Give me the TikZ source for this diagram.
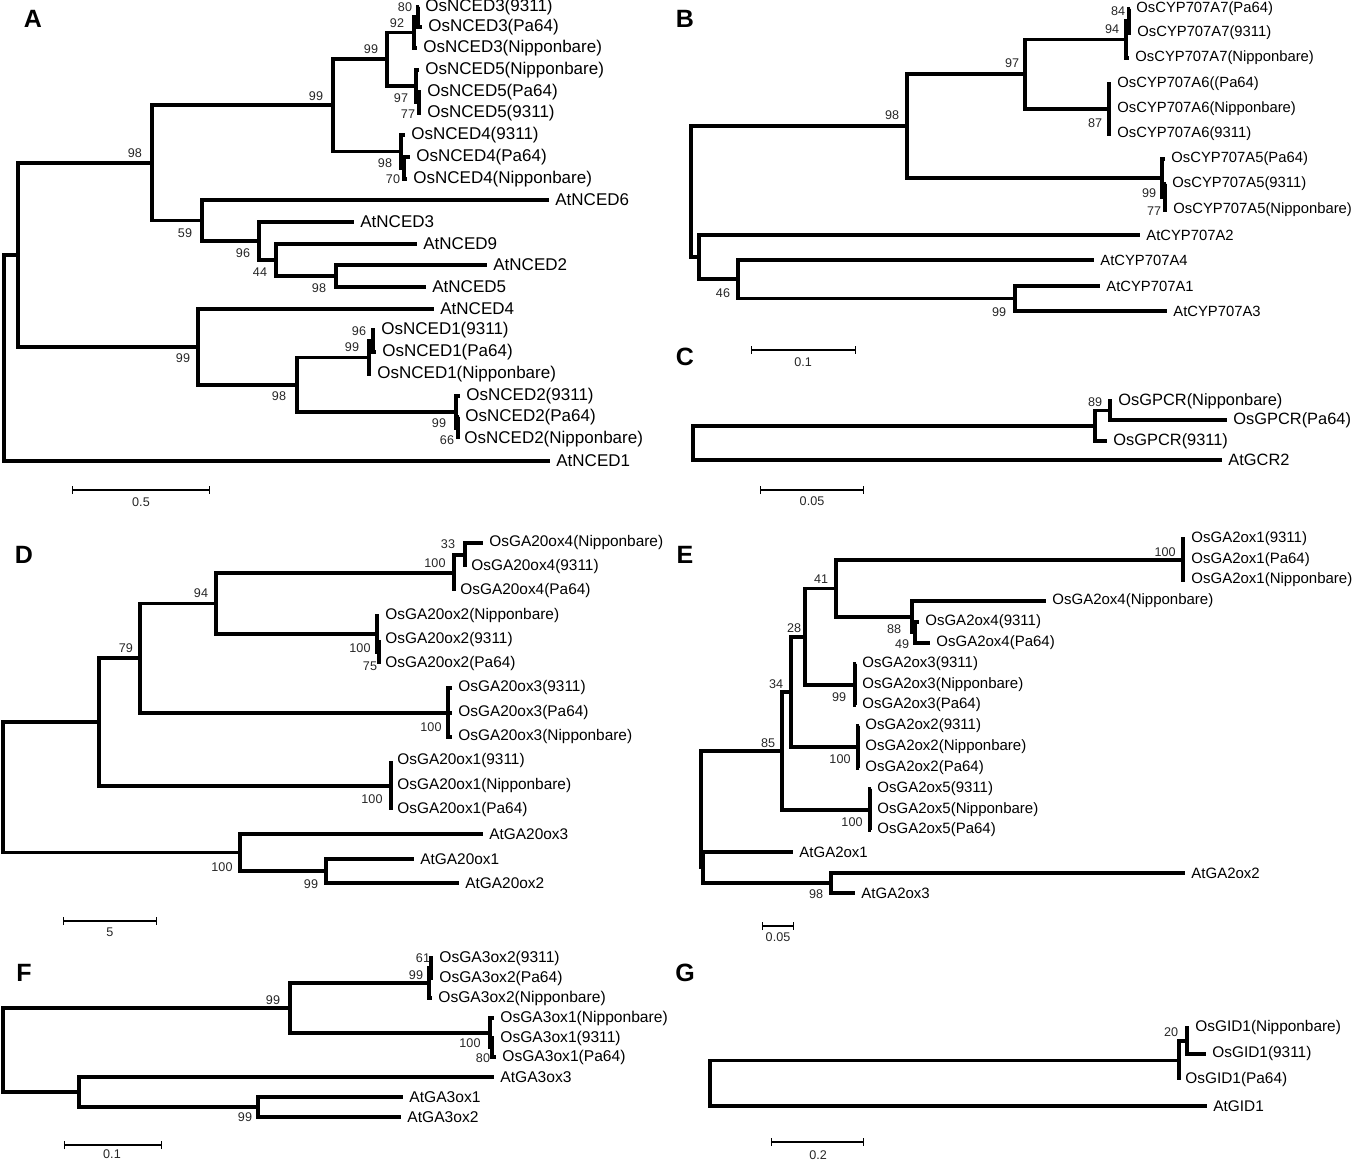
\documentclass[tikz,border=0pt]{standalone}
\usepackage{fontspec}
\setmainfont{Liberation Sans}
\usetikzlibrary{arrows.meta}
\newcommand{\bssize}{\fontsize{6.3}{7}\selectfont}
\newcommand{\pnlsize}{\fontsize{12.5}{14}\selectfont\bfseries}
\tikzset{
  br/.style={line width=1.7pt},
  lf/.style={anchor=west, inner xsep=3pt, inner ysep=1pt, font=\fontsize{#1}{10}\selectfont},
  lf/.default=7.7,
  bs/.style={inner sep=0pt, font=\bssize, text=black!85},
  pnl/.style={inner sep=0pt, font=\pnlsize},
  sbar/.style={line width=0.6pt, {Bar[width=4pt]}-{Bar[width=4pt]}},
}
\begin{document}
\begin{tikzpicture}[x=0.5pt,y=-0.5pt]
\useasboundingbox (0,0) rectangle (1355,1161);

% A
\node[pnl] (pA) at (33,19) {A};
\node[lf=8.5] (a3x) at (419,7)   {OsNCED3(9311)};
\node[lf=8.5] (a3p) at (422,27)  {OsNCED3(Pa64)};
\node[lf=8.5] (a3n) at (417,48)  {OsNCED3(Nipponbare)};
\node[lf=8.5] (a5n) at (419,70)  {OsNCED5(Nipponbare)};
\node[lf=8.5] (a5p) at (421,92)  {OsNCED5(Pa64)};
\node[lf=8.5] (a5x) at (421,113) {OsNCED5(9311)};
\node[lf=8.5] (a4x) at (405,135) {OsNCED4(9311)};
\node[lf=8.5] (a4p) at (410,157) {OsNCED4(Pa64)};
\node[lf=8.5] (a4n) at (407,179) {OsNCED4(Nipponbare)};
\node[lf=8.5] (at6) at (549,200) {AtNCED6};
\node[lf=8.5] (at3) at (354,222) {AtNCED3};
\node[lf=8.5] (at9) at (417,244) {AtNCED9};
\node[lf=8.5] (at2) at (487,265) {AtNCED2};
\node[lf=8.5] (at5) at (426,287) {AtNCED5};
\node[lf=8.5] (at4) at (434,309) {AtNCED4};
\node[lf=8.5] (a1x) at (375,330) {OsNCED1(9311)};
\node[lf=8.5] (a1p) at (376,352) {OsNCED1(Pa64)};
\node[lf=8.5] (a1n) at (371,374) {OsNCED1(Nipponbare)};
\node[lf=8.5] (a2x) at (460,396) {OsNCED2(9311)};
\node[lf=8.5] (a2p) at (459,417) {OsNCED2(Pa64)};
\node[lf=8.5] (a2n) at (458,439) {OsNCED2(Nipponbare)};
\node[lf=8.5] (at1) at (550,461) {AtNCED1};
\coordinate (a6) at (418,17);
\coordinate (a5) at (414,32.5);
\coordinate (a8) at (419,102.5);
\coordinate (a7) at (416,86);
\coordinate (a4) at (387,59);
\coordinate (a10) at (404,168);
\coordinate (a9) at (401,151.5);
\coordinate (a3) at (333,105);
\coordinate (a14) at (336,276);
\coordinate (a13) at (276,260);
\coordinate (a12) at (259,241);
\coordinate (a11) at (202,220.5);
\coordinate (a2) at (152,163);
\coordinate (a18) at (373,341);
\coordinate (a17) at (369,357.5);
\coordinate (a20) at (458,428);
\coordinate (a19) at (456,412);
\coordinate (a16) at (297,385);
\coordinate (a15) at (198,347);
\coordinate (a1) at (18,255);
\coordinate (aR) at (4,358);
\draw[br] (aR) |- (a1) (aR) |- (at1.west)
  (a1) |- (a2) (a1) |- (a15)
  (a2) |- (a3) (a2) |- (a11)
  (a3) |- (a4) (a3) |- (a9)
  (a4) |- (a5) (a4) |- (a7)
  (a5) |- (a6) (a5) |- (a3n.west)
  (a6) |- (a3x.west) (a6) |- (a3p.west)
  (a7) |- (a5n.west) (a7) |- (a8)
  (a8) |- (a5p.west) (a8) |- (a5x.west)
  (a9) |- (a4x.west) (a9) |- (a10)
  (a10) |- (a4p.west) (a10) |- (a4n.west)
  (a11) |- (at6.west) (a11) |- (a12)
  (a12) |- (at3.west) (a12) |- (a13)
  (a13) |- (at9.west) (a13) |- (a14)
  (a14) |- (at2.west) (a14) |- (at5.west)
  (a15) |- (at4.west) (a15) |- (a16)
  (a16) |- (a17) (a16) |- (a19)
  (a17) |- (a18) (a17) |- (a1n.west)
  (a18) |- (a1x.west) (a18) |- (a1p.west)
  (a19) |- (a2x.west) (a19) |- (a20)
  (a20) |- (a2p.west) (a20) |- (a2n.west);
\node[bs] (ab80) at (405,7) {80};
\node[bs] (ab92) at (397,23) {92};
\node[bs] (ab99a) at (371,49) {99};
\node[bs] (ab99b) at (316,96) {99};
\node[bs] (ab98a) at (135,153) {98};
\node[bs] (ab97) at (401,98) {97};
\node[bs] (ab77) at (408,114) {77};
\node[bs] (ab98b) at (385,163) {98};
\node[bs] (ab70) at (393,179) {70};
\node[bs] (ab59) at (185,233) {59};
\node[bs] (ab96a) at (243,253) {96};
\node[bs] (ab44) at (260,272) {44};
\node[bs] (ab98c) at (319,288) {98};
\node[bs] (ab99c) at (183,358) {99};
\node[bs] (ab98d) at (279,396) {98};
\node[bs] (ab96b) at (359,331) {96};
\node[bs] (ab99d) at (352,347) {99};
\node[bs] (ab99e) at (439,423) {99};
\node[bs] (ab66) at (447,440) {66};
\coordinate (asL) at (72,490);
\coordinate (asR) at (210,490);
\draw[sbar] (asL) -- (asR);
\node[bs] (asv) at (141,502) {0.5};

% B
\node[pnl] (pB) at (685,19) {B};
\node[lf=7.4] (b7p) at (1130,9)   {OsCYP707A7(Pa64)};
\node[lf=7.4] (b7x) at (1131,33)  {OsCYP707A7(9311)};
\node[lf=7.4] (b7n) at (1129,58)  {OsCYP707A7(Nipponbare)};
\node[lf=7.4] (b6p) at (1111,84)  {OsCYP707A6((Pa64)};
\node[lf=7.4] (b6n) at (1111,109) {OsCYP707A6(Nipponbare)};
\node[lf=7.4] (b6x) at (1111,134) {OsCYP707A6(9311)};
\node[lf=7.4] (b5p) at (1165,159) {OsCYP707A5(Pa64)};
\node[lf=7.4] (b5x) at (1166,184) {OsCYP707A5(9311)};
\node[lf=7.4] (b5n) at (1167,210) {OsCYP707A5(Nipponbare)};
\node[lf=7.4] (bt2) at (1140,235) {AtCYP707A2};
\node[lf=7.4] (bt4) at (1094,260) {AtCYP707A4};
\node[lf=7.4] (bt1) at (1100,286) {AtCYP707A1};
\node[lf=7.4] (bt3) at (1167,311) {AtCYP707A3};
\coordinate (b4) at (1129,21);
\coordinate (b3) at (1126,39.5);
\coordinate (b5) at (1109,109);
\coordinate (b2) at (1025,74);
\coordinate (b7) at (1165,197);
\coordinate (b6) at (1162,178);
\coordinate (b1) at (907,126);
\coordinate (b10) at (1015,298.5);
\coordinate (b9) at (738,279);
\coordinate (b8) at (699,257);
\coordinate (bR) at (691,191.5);
\draw[br] (bR) |- (b1) (bR) |- (b8)
  (b1) |- (b2) (b1) |- (b6)
  (b2) |- (b3) (b2) |- (b5)
  (b3) |- (b4) (b3) |- (b7n.west)
  (b4) |- (b7p.west) (b4) |- (b7x.west)
  (b5) |- (b6p.west) (b5) |- (b6n.west) (b5) |- (b6x.west)
  (b6) |- (b5p.west) (b6) |- (b7)
  (b7) |- (b5x.west) (b7) |- (b5n.west)
  (b8) |- (bt2.west) (b8) |- (b9)
  (b9) |- (bt4.west) (b9) |- (b10)
  (b10) |- (bt1.west) (b10) |- (bt3.west);
\node[bs] (bb84) at (1118,11) {84};
\node[bs] (bb94) at (1112,29) {94};
\node[bs] (bb97) at (1012,63) {97};
\node[bs] (bb98) at (892,115) {98};
\node[bs] (bb87) at (1095,123) {87};
\node[bs] (bb99a) at (1149,193) {99};
\node[bs] (bb77) at (1154,211) {77};
\node[bs] (bb46) at (723,293) {46};
\node[bs] (bb99b) at (999,312) {99};
\coordinate (bsL) at (751,350);
\coordinate (bsR) at (856,350);
\draw[sbar] (bsL) -- (bsR);
\node[bs] (bsv) at (803,362) {0.1};

% C
\node[pnl] (pC) at (685,357) {C};
\node[lf=8.2] (cn) at (1112,401) {OsGPCR(Nipponbare)};
\node[lf=8.2] (cp) at (1227,420) {OsGPCR(Pa64)};
\node[lf=8.2] (cx) at (1107,441) {OsGPCR(9311)};
\node[lf=8.2] (ct) at (1222,460) {AtGCR2};
\coordinate (c2) at (1110,410.5);
\coordinate (c1) at (1095,426);
\coordinate (cR) at (693,443);
\draw[br] (cR) |- (c1) (cR) |- (ct.west)
  (c1) |- (c2) (c1) |- (cx.west)
  (c2) |- (cn.west) (c2) |- (cp.west);
\node[bs] (cb89) at (1095,402) {89};
\coordinate (csL) at (760,490);
\coordinate (csR) at (864,490);
\draw[sbar] (csL) -- (csR);
\node[bs] (csv) at (812,501) {0.05};

% D
\node[pnl] (pD) at (24,555) {D};
\node[lf] (d4n) at (483,543) {OsGA20ox4(Nipponbare)};
\node[lf] (d4x) at (465,567) {OsGA20ox4(9311)};
\node[lf] (d4p) at (454,591) {OsGA20ox4(Pa64)};
\node[lf] (d2n) at (379,616) {OsGA20ox2(Nipponbare)};
\node[lf] (d2x) at (379,640) {OsGA20ox2(9311)};
\node[lf] (d2p) at (379,664) {OsGA20ox2(Pa64)};
\node[lf] (d3x) at (452,688) {OsGA20ox3(9311)};
\node[lf] (d3p) at (452,713) {OsGA20ox3(Pa64)};
\node[lf] (d3n) at (452,737) {OsGA20ox3(Nipponbare)};
\node[lf] (d1x) at (391,761) {OsGA20ox1(9311)};
\node[lf] (d1n) at (391,786) {OsGA20ox1(Nipponbare)};
\node[lf] (d1p) at (391,810) {OsGA20ox1(Pa64)};
\node[lf] (dt3) at (483,834) {AtGA20ox3};
\node[lf] (dt1) at (414,859) {AtGA20ox1};
\node[lf] (dt2) at (459,883) {AtGA20ox2};
\coordinate (d5) at (465,555);
\coordinate (d4) at (454,573);
\coordinate (d7) at (379,652);
\coordinate (d6) at (377,634);
\coordinate (d3) at (216,603.5);
\coordinate (d8) at (448,713);
\coordinate (d2) at (140,658);
\coordinate (d9) at (391,786);
\coordinate (d1) at (99,722);
\coordinate (d11) at (326,871);
\coordinate (d10) at (240,852.5);
\coordinate (dR) at (3,787);
\draw[br] (dR) |- (d1) (dR) |- (d10)
  (d1) |- (d2) (d1) |- (d9)
  (d2) |- (d3) (d2) |- (d8)
  (d3) |- (d4) (d3) |- (d6)
  (d4) |- (d5) (d4) |- (d4p.west)
  (d5) |- (d4n.west) (d5) |- (d4x.west)
  (d6) |- (d2n.west) (d6) |- (d7)
  (d7) |- (d2x.west) (d7) |- (d2p.west)
  (d8) |- (d3x.west) (d8) |- (d3p.west) (d8) |- (d3n.west)
  (d9) |- (d1x.west) (d9) |- (d1n.west) (d9) |- (d1p.west)
  (d10) |- (dt3.west) (d10) |- (d11)
  (d11) |- (dt1.west) (d11) |- (dt2.west);
\node[bs] (db33) at (448,544) {33};
\node[bs] (db100a) at (435,563) {100};
\node[bs] (db94) at (201,593) {94};
\node[bs] (db79) at (126,648) {79};
\node[bs] (db100b) at (360,648) {100};
\node[bs] (db75) at (370,666) {75};
\node[bs] (db100c) at (431,727) {100};
\node[bs] (db100d) at (372,799) {100};
\node[bs] (db100e) at (222,867) {100};
\node[bs] (db99) at (311,884) {99};
\coordinate (dsL) at (63,921);
\coordinate (dsR) at (157,921);
\draw[sbar] (dsL) -- (dsR);
\node[bs] (dsv) at (110,932) {5};

% E
\node[pnl] (pE) at (685,555) {E};
\node[lf=7.5] (e1x) at (1185,539) {OsGA2ox1(9311)};
\node[lf=7.5] (e1p) at (1185,560) {OsGA2ox1(Pa64)};
\node[lf=7.5] (e1n) at (1185,580) {OsGA2ox1(Nipponbare)};
\node[lf=7.5] (e4n) at (1046,601) {OsGA2ox4(Nipponbare)};
\node[lf=7.5] (e4x) at (919,622)  {OsGA2ox4(9311)};
\node[lf=7.5] (e4p) at (930,643)  {OsGA2ox4(Pa64)};
\node[lf=7.5] (e3x) at (856,664)  {OsGA2ox3(9311)};
\node[lf=7.5] (e3n) at (856,685)  {OsGA2ox3(Nipponbare)};
\node[lf=7.5] (e3p) at (856,705)  {OsGA2ox3(Pa64)};
\node[lf=7.5] (e2x) at (859,726)  {OsGA2ox2(9311)};
\node[lf=7.5] (e2n) at (859,747)  {OsGA2ox2(Nipponbare)};
\node[lf=7.5] (e2p) at (859,768)  {OsGA2ox2(Pa64)};
\node[lf=7.5] (e5x) at (871,789)  {OsGA2ox5(9311)};
\node[lf=7.5] (e5n) at (871,810)  {OsGA2ox5(Nipponbare)};
\node[lf=7.5] (e5p) at (871,830)  {OsGA2ox5(Pa64)};
\node[lf=7.5] (et1) at (793,852)  {AtGA2ox1};
\node[lf=7.5] (et2) at (1185,873) {AtGA2ox2};
\node[lf=7.5] (et3) at (855,893)  {AtGA2ox3};
\coordinate (e5) at (1183,560);
\coordinate (e7) at (915,632.5);
\coordinate (e6) at (912,617);
\coordinate (e4) at (836,588.5);
\coordinate (e8) at (855,685);
\coordinate (e3) at (805,637);
\coordinate (e9) at (858,747);
\coordinate (e2) at (791,692);
\coordinate (e10) at (870,810);
\coordinate (e1) at (782,751);
\coordinate (e12) at (831,883);
\coordinate (e11) at (703,867.5);
\coordinate (eR) at (701,809);
\draw[br] (eR) |- (e1) (eR) |- (e11)
  (e1) |- (e2) (e1) |- (e10)
  (e2) |- (e3) (e2) |- (e9)
  (e3) |- (e4) (e3) |- (e8)
  (e4) |- (e5) (e4) |- (e6)
  (e5) |- (e1x.west) (e5) |- (e1p.west) (e5) |- (e1n.west)
  (e6) |- (e4n.west) (e6) |- (e7)
  (e7) |- (e4x.west) (e7) |- (e4p.west)
  (e8) |- (e3x.west) (e8) |- (e3n.west) (e8) |- (e3p.west)
  (e9) |- (e2x.west) (e9) |- (e2n.west) (e9) |- (e2p.west)
  (e10) |- (e5x.west) (e10) |- (e5n.west) (e10) |- (e5p.west)
  (e11) |- (et1.west) (e11) |- (e12)
  (e12) |- (et2.west) (e12) |- (et3.west);
\node[bs] (eb100a) at (1165,552) {100};
\node[bs] (eb41) at (821,579) {41};
\node[bs] (eb88) at (894,629) {88};
\node[bs] (eb49) at (902,644) {49};
\node[bs] (eb28) at (794,628) {28};
\node[bs] (eb99) at (839,697) {99};
\node[bs] (eb34) at (776,684) {34};
\node[bs] (eb100b) at (840,759) {100};
\node[bs] (eb85) at (768,743) {85};
\node[bs] (eb100c) at (852,822) {100};
\node[bs] (eb98) at (816,894) {98};
\coordinate (esL) at (762,926);
\coordinate (esR) at (794,926);
\draw[sbar] (esL) -- (esR);
\node[bs] (esv) at (778,937) {0.05};

% F
\node[pnl] (pF) at (24,973) {F};
\node[lf=7.8] (f2x) at (433,958)  {OsGA3ox2(9311)};
\node[lf=7.8] (f2p) at (433,978)  {OsGA3ox2(Pa64)};
\node[lf=7.8] (f2n) at (432,998)  {OsGA3ox2(Nipponbare)};
\node[lf=7.8] (f1n) at (494,1018) {OsGA3ox1(Nipponbare)};
\node[lf=7.8] (f1x) at (494,1038) {OsGA3ox1(9311)};
\node[lf=7.8] (f1p) at (496,1057) {OsGA3ox1(Pa64)};
\node[lf=7.8] (ft3) at (494,1077) {AtGA3ox3};
\node[lf=7.8] (ft1) at (403,1097) {AtGA3ox1};
\node[lf=7.8] (ft2) at (401,1117) {AtGA3ox2};
\coordinate (f3) at (431,968);
\coordinate (f2) at (429,983);
\coordinate (f5) at (492,1047.5);
\coordinate (f4) at (490,1033);
\coordinate (f1) at (290,1008);
\coordinate (f7) at (258,1107);
\coordinate (f6) at (79,1092);
\coordinate (fR) at (3,1050);
\draw[br] (fR) |- (f1) (fR) |- (f6)
  (f1) |- (f2) (f1) |- (f4)
  (f2) |- (f3) (f2) |- (f2n.west)
  (f3) |- (f2x.west) (f3) |- (f2p.west)
  (f4) |- (f1n.west) (f4) |- (f5)
  (f5) |- (f1x.west) (f5) |- (f1p.west)
  (f6) |- (ft3.west) (f6) |- (f7)
  (f7) |- (ft1.west) (f7) |- (ft2.west);
\node[bs] (fb61) at (423,958) {61};
\node[bs] (fb99a) at (416,975) {99};
\node[bs] (fb99b) at (273,1000) {99};
\node[bs] (fb100) at (470,1043) {100};
\node[bs] (fb80) at (483,1058) {80};
\node[bs] (fb99c) at (245,1117) {99};
\coordinate (fsL) at (64,1145);
\coordinate (fsR) at (162,1145);
\draw[sbar] (fsL) -- (fsR);
\node[bs] (fsv) at (112,1154) {0.1};

% G
\node[pnl] (pG) at (685,973) {G};
\node[lf] (gn) at (1189,1028) {OsGID1(Nipponbare)};
\node[lf] (gx) at (1206,1054) {OsGID1(9311)};
\node[lf] (gp) at (1179,1080) {OsGID1(Pa64)};
\node[lf] (gt) at (1207,1106) {AtGID1};
\coordinate (g2) at (1187,1041);
\coordinate (g1) at (1179,1060.5);
\coordinate (gR) at (710,1083.5);
\draw[br] (gR) |- (g1) (gR) |- (gt.west)
  (g1) |- (g2) (g1) |- (gp.west)
  (g2) |- (gn.west) (g2) |- (gx.west);
\node[bs] (gb20) at (1171,1032) {20};
\coordinate (gsL) at (771,1142);
\coordinate (gsR) at (864,1142);
\draw[sbar] (gsL) -- (gsR);
\node[bs] (gsv) at (818,1155) {0.2};
\end{tikzpicture}
\end{document}
